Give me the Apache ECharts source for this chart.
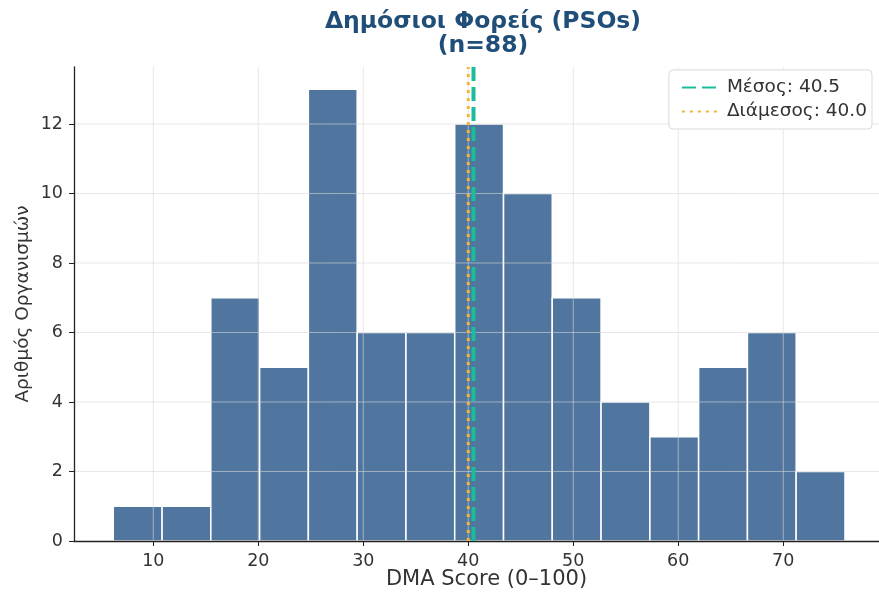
<!DOCTYPE html>
<html><head><meta charset="utf-8">
<script src="https://cdn.jsdelivr.net/npm/echarts@6/dist/echarts.min.js"></script>
<style>html,body{margin:0;padding:0;background:#fff}#c{width:879px;height:594px}</style>
</head><body><div id="c"></div>
<script>
const binEdges = [6.19, 10.84, 15.48, 20.13, 24.77, 29.42, 34.07, 38.71, 43.36, 48.00, 52.65, 57.30, 61.94, 66.59, 71.23, 75.88];
const counts = [1, 1, 7, 5, 13, 6, 6, 12, 10, 7, 4, 3, 5, 6, 2];
const meanValue = 40.5;
const medianValue = 40.0;
const xTicks = [10, 20, 30, 40, 50, 60, 70];
const yTicks = [0, 2, 4, 6, 8, 10, 12];
const titleText = 'Δημόσιοι Φορείς (PSOs)\n(n=88)';
const xName = 'DMA Score (0–100)';
const yName = 'Αριθμός Οργανισμών';
const meanLabel = 'Μέσος: ' + meanValue.toFixed(1);
const medianLabel = 'Διάμεσος: ' + medianValue.toFixed(1);

const X_MIN = 2.45, X_MAX = 79.12, Y_MIN = 0, Y_MAX = 13.64;
const FONT = 'DejaVu Sans';

const histData = counts.map((c, i) => [binEdges[i], binEdges[i + 1], c]);

const chart = echarts.init(document.getElementById('c'), null, {renderer: 'canvas'});
chart.setOption({
  animation: false,
  backgroundColor: '#ffffff',
  title: {
    text: titleText,
    left: 478, top: 5, textAlign: 'center',
    textStyle: {fontFamily: FONT, fontSize: 23.5, fontWeight: 'bold', color: '#1f4e79', lineHeight: 24}
  },
  legend: {
    orient: 'vertical', right: 7, top: 70,
    backgroundColor: '#fff', borderColor: '#d9d9d9', borderWidth: 1, borderRadius: 4,
    padding: [8, 5, 8, 12], itemGap: 5, itemWidth: 36, itemHeight: 14,
    itemStyle: {opacity: 0},
    textStyle: {fontFamily: FONT, fontSize: 18.5, color: '#333', padding: [0, 0, 0, 4]},
    data: [meanLabel, medianLabel]
  },
  grid: {left: 74, right: 0, top: 67, bottom: 53, containLabel: false, outerBoundsMode: 'none'},
  xAxis: {
    type: 'value', min: X_MIN, max: X_MAX, z: 3,
    name: xName, nameLocation: 'middle', nameGap: 28, nameMoveOverlap: false,
    nameTextStyle: {fontFamily: FONT, fontSize: 21, color: '#333', padding: [0, 0, 0, 20]},
    axisLine: {show: true, lineStyle: {color: '#222', width: 1.3}},
    axisTick: {show: true, length: 5, lineStyle: {color: '#222'}, customValues: xTicks},
    axisLabel: {fontFamily: FONT, fontSize: 17.5, color: '#333', margin: 11, customValues: xTicks},
    splitLine: {show: false}
  },
  yAxis: {
    type: 'value', min: Y_MIN, max: Y_MAX, z: 3,
    name: yName, nameLocation: 'middle', nameGap: 41, nameRotate: 90, nameMoveOverlap: false,
    nameTextStyle: {fontFamily: FONT, fontSize: 18.5, color: '#333'},
    axisLine: {show: true, lineStyle: {color: '#222', width: 1.3}},
    axisTick: {show: true, length: 5, lineStyle: {color: '#222'}, customValues: yTicks},
    axisLabel: {fontFamily: FONT, fontSize: 17.5, color: '#333', margin: 11, customValues: yTicks},
    splitLine: {show: false}
  },
  series: [
    {
      type: 'custom', name: 'hist', z: 1,
      data: histData,
      encode: {x: [0, 1], y: 2},
      renderItem: function (params, api) {
        const p0 = api.coord([api.value(0), api.value(2)]);
        const p1 = api.coord([api.value(1), 0]);
        return {
          type: 'rect',
          shape: {x: p0[0], y: p0[1], width: p1[0] - p0[0], height: p1[1] - p0[1]},
          style: {fill: '#50769f', stroke: '#ffffff', lineWidth: 1.5}
        };
      }
    },
    {
      type: 'custom', name: 'gridlines', z: 2, silent: true,
      data: [[X_MIN, Y_MIN]],
      encode: {x: 0, y: 1},
      renderItem: function (params, api) {
        const children = [];
        xTicks.forEach(t => {
          const a = api.coord([t, Y_MIN]), b = api.coord([t, Y_MAX]);
          children.push({type: 'line', shape: {x1: a[0], y1: a[1], x2: b[0], y2: b[1]},
            style: {stroke: 'rgba(215,215,215,0.6)', lineWidth: 1}});
        });
        yTicks.forEach(t => {
          if (t === 0) return;
          const a = api.coord([X_MIN, t]), b = api.coord([X_MAX, t]);
          children.push({type: 'line', shape: {x1: a[0], y1: a[1], x2: b[0], y2: b[1]},
            style: {stroke: 'rgba(215,215,215,0.6)', lineWidth: 1}});
        });
        return {type: 'group', children: children};
      }
    },
    {
      type: 'line', name: medianLabel, z: 5, symbol: 'none', showSymbol: false,
      data: [[medianValue, Y_MIN], [medianValue, Y_MAX]],
      lineStyle: {color: '#f4b43c', width: 3, type: [3, 5]},
      itemStyle: {color: '#f4b43c'}
    },
    {
      type: 'line', name: meanLabel, z: 6, symbol: 'none', showSymbol: false,
      data: [[meanValue, Y_MIN], [meanValue, Y_MAX]],
      lineStyle: {color: '#1abc9c', width: 4, type: [14, 6]},
      itemStyle: {color: '#1abc9c'}
    }
  ]
});
</script>
</body></html>
